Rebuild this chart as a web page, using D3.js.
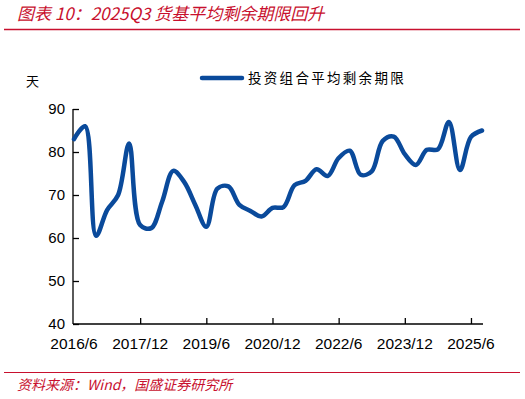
<!DOCTYPE html>
<html>
<head>
<meta charset="utf-8">
<script src="https://cdn.jsdelivr.net/npm/d3@7"></script>
<style>
  body { margin: 0; background: #fff; }
  svg { display: block; }
</style>
</head>
<body>
<div id="container"></div>
<script>
// data: quarterly, 2016/6 .. 2025/9
let values = [83, 86, 60.5, 66.5, 70, 82, 63, 62.3, 68.5, 75.6,
  73, 67.7, 62.6, 71.5, 72, 67.7, 66.3, 65, 67, 67.2,
  72.3, 73.3, 76, 74.4, 78.6, 80.3, 74.7, 75.5, 82.6, 83.6,
  79.5, 77, 80.5, 80.6, 87, 75.8, 83.5, 85];
let tickIdx = [0, 6, 12, 18, 24, 30, 36];
let tickLabels = ["2016/6", "2017/12", "2019/6", "2020/12", "2022/6", "2023/12", "2025/6"];
let yTicks = [40, 50, 60, 70, 80, 90];
let seriesName = "投资组合平均剩余期限";

let w = 525;
let h = 399;
let red = "#c8102e";
let blue = "#0a4a9b";

let viz = d3.select("#container")
  .append("svg")
    .attr("width", w)
    .attr("height", h);

// title + rules
viz.append("text")
  .attr("x", 17).attr("y", 20)
  .attr("fill", red)
  .attr("font-family", "Noto Sans CJK SC, sans-serif")
  .attr("font-style", "italic")
  .attr("font-size", 17)
  .text("图表 10：2025Q3 货基平均剩余期限回升");
viz.append("line")
  .attr("x1", 4).attr("x2", 520).attr("y1", 29.5).attr("y2", 29.5)
  .attr("stroke", red).attr("stroke-width", 1.5);
viz.append("line")
  .attr("x1", 4).attr("x2", 520).attr("y1", 372.5).attr("y2", 372.5)
  .attr("stroke", red).attr("stroke-width", 1.2);
viz.append("text")
  .attr("x", 17).attr("y", 390)
  .attr("fill", red)
  .attr("font-family", "Noto Sans CJK SC, sans-serif")
  .attr("font-style", "italic")
  .attr("font-size", 14)
  .text("资料来源：Wind，国盛证券研究所");

// scales
let xScale = d3.scaleLinear().domain([0, values.length - 1]).range([74, 482]);
let yScale = d3.scaleLinear().domain([40, 90]).range([324, 109]);

// y axis
let yAxis = d3.axisRight(yScale).tickValues(yTicks).tickSize(6).tickFormat(d3.format("d"));
let yAxisGroup = viz.append("g").attr("transform", "translate(73,0)").call(yAxis);
yAxisGroup.select(".domain").attr("d", "M0," + yScale(90) + "V" + yScale(40));
yAxisGroup.selectAll("text")
  .attr("x", -8).attr("text-anchor", "end")
  .attr("font-size", 15).attr("font-family", "Liberation Sans, Arial, sans-serif");

// x axis
let xAxis = d3.axisTop(xScale).tickValues(tickIdx.slice(1)).tickSize(6).tickFormat("");
let xAxisGroup = viz.append("g").attr("transform", "translate(0,324)").call(xAxis);
xAxisGroup.select(".domain").attr("d", "M73,0H483");
viz.append("g").selectAll("text")
  .data(tickIdx)
  .enter().append("text")
    .attr("x", function(d){ return xScale(d); })
    .attr("y", 349)
    .attr("text-anchor", "middle")
    .attr("font-size", 15.5)
    .attr("font-family", "Liberation Sans, Arial, sans-serif")
    .text(function(d, i){ return tickLabels[i]; });
viz.selectAll(".domain, .tick line").attr("stroke", "#000").attr("stroke-width", 1.3);

// unit label
viz.append("text")
  .attr("x", 26).attr("y", 86)
  .attr("font-size", 13)
  .attr("font-family", "Noto Sans CJK SC, sans-serif")
  .text("天");

// legend
viz.append("line")
  .attr("x1", 202).attr("x2", 242).attr("y1", 78).attr("y2", 78)
  .attr("stroke", blue).attr("stroke-width", 4.5).attr("stroke-linecap", "round");
viz.append("text")
  .attr("x", 248).attr("y", 83)
  .attr("font-size", 13.5)
  .attr("letter-spacing", 2.3)
  .attr("font-family", "Noto Sans CJK SC, sans-serif")
  .text(seriesName);

// line
let line = d3.line()
  .x(function(d, i){ return xScale(i); })
  .y(function(d){ return yScale(d); })
  .curve(d3.curveCatmullRom.alpha(0.5));
viz.append("path")
  .datum(values)
  .attr("d", line)
  .attr("fill", "none")
  .attr("stroke", blue)
  .attr("stroke-width", 4.5)
  .attr("stroke-linecap", "round")
  .attr("stroke-linejoin", "round");
</script>
</body>
</html>
